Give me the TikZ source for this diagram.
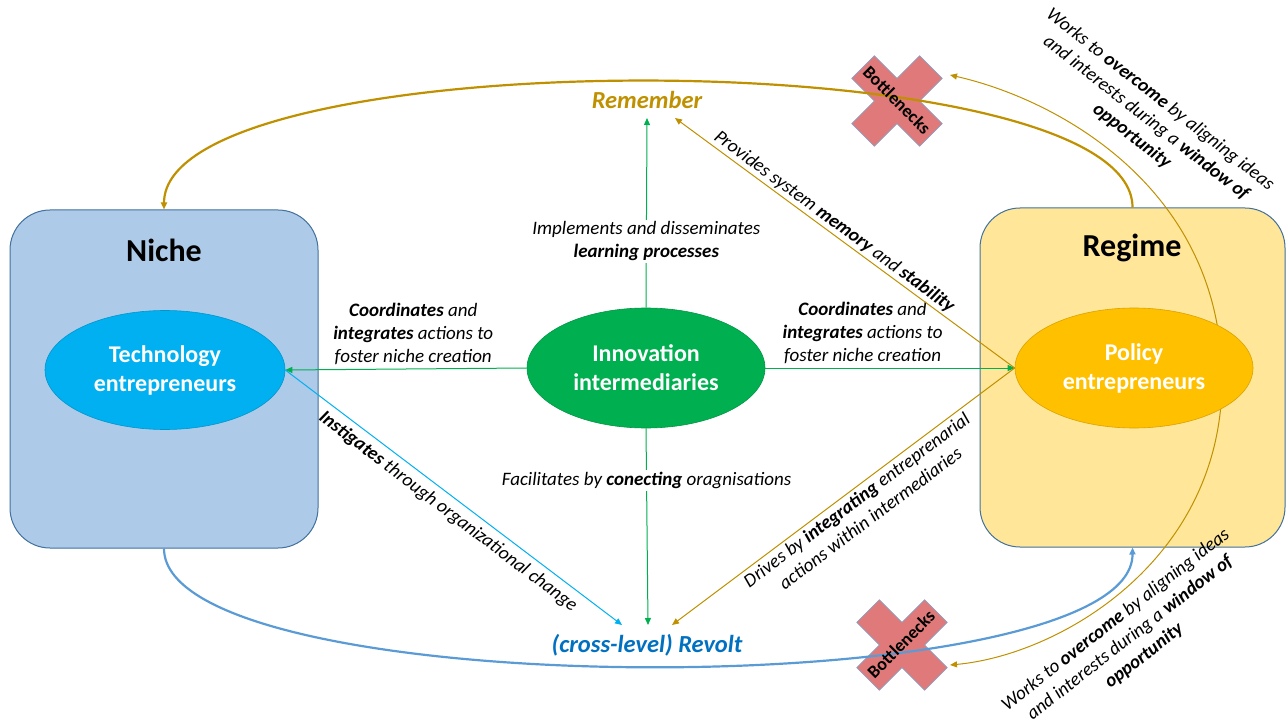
\documentclass[tikz,border=0pt]{standalone}
\usepackage{fontspec}
\setmainfont{Carlito}
\usetikzlibrary{shapes.geometric,arrows.meta,calc}
\definecolor{nichefill}{RGB}{173,202,233}
\definecolor{boxedge}{RGB}{65,113,156}
\definecolor{regimefill}{RGB}{255,230,153}
\definecolor{techfill}{RGB}{0,176,240}
\definecolor{innofill}{RGB}{0,176,80}
\definecolor{polfill}{RGB}{255,192,0}
\definecolor{goldc}{RGB}{191,144,0}
\definecolor{arcblue}{RGB}{91,155,213}
\definecolor{revblue}{RGB}{0,112,192}
\definecolor{crossfill}{RGB}{224,122,122}
\definecolor{crossedge}{RGB}{140,160,195}
\begin{document}
\begin{tikzpicture}[x=1pt,y=-1pt,
  levelbox/.style={draw=boxedge,line width=1pt,rounded corners=40pt,inner sep=0},
  leveltitle/.style={font=\fontsize{32}{37}\selectfont\bfseries},
  actor/.style={ellipse,inner sep=0,minimum width=238pt,minimum height=120pt,text=white,
    font=\fontsize{24}{29}\selectfont\bfseries,align=center,line width=0.6pt},
  lbl/.style={font=\fontsize{19}{23}\selectfont\itshape,align=center,text=black,inner sep=2pt},
  tipa/.style={-{Triangle[length=7pt,width=6pt]}},
  tipb/.style={{Triangle[length=7pt,width=6pt]}-{Triangle[length=7pt,width=6pt]}},
  greenline/.style={draw=innofill,line width=1pt},
  cyanline/.style={draw=techfill,line width=1pt},
  goldline/.style={draw=goldc,line width=1pt},
  bigtext/.style={font=\fontsize{24.5}{29}\selectfont\bfseries\itshape},
  crossshape/.style={fill=crossfill,draw=crossedge,line width=0.6pt},
  crosstext/.style={font=\fontsize{18}{22}\selectfont\bfseries}
]
\useasboundingbox (0,0) rectangle (1287,719);

% level boxes
\node[levelbox,fill=nichefill,minimum width=308pt,minimum height=338pt] (niche) at (164,379) {};
\node[levelbox,fill=regimefill,minimum width=305pt,minimum height=339pt] (regime) at (1132.5,377.5) {};
\node[leveltitle] (nichet) at (164,250) {Niche};
\node[leveltitle] (regimet) at (1132,248) {Regime};

% bottleneck crosses (shapes)
\fill[crossshape,shift={(897,101)},rotate=45]
  (-16,-48) -- (16,-48) -- (16,-16) -- (48,-16) -- (48,16) -- (16,16) -- (16,48)
  -- (-16,48) -- (-16,16) -- (-48,16) -- (-48,-16) -- (-16,-16) -- cycle;
\fill[crossshape,shift={(902,645)},rotate=45]
  (-16,-48) -- (16,-48) -- (16,-16) -- (48,-16) -- (48,16) -- (16,16) -- (16,48)
  -- (-16,48) -- (-16,16) -- (-48,16) -- (-48,-16) -- (-16,-16) -- cycle;

% free ends
\coordinate (ovtop) at (950,75);
\coordinate (ovbot) at (950,665);
\coordinate (remG) at (647,118);
\coordinate (remP) at (675,118);
\coordinate (revT) at (622,625);
\coordinate (revG) at (648,625);
\coordinate (revP) at (672,625);

% big arcs
\draw[draw=goldc,line width=2.2pt,tipa] (regime.north) .. controls (1133,39) and (164,39) .. (niche.north);
\draw[draw=arcblue,line width=2.2pt,tipa] (niche.south) .. controls (164,706) and (1133,706) .. (regime.south);
\draw[goldline,tipb] (ovtop) .. controls (1060,100) and (1222,190) .. (1222,380)
  .. controls (1222,560) and (1060,655) .. (ovbot);

% cross texts
\node[crosstext,rotate=-45] (bn1) at (897,100) {Bottlenecks};
\node[crosstext,rotate=45] (bn2) at (901,644) {Bottlenecks};

% actors
\node[actor,fill=techfill,draw=techfill!85!black,minimum width=240pt,minimum height=119pt] (tech) at (165,370) {Technology\\entrepreneurs};
\node[actor,fill=innofill,draw=innofill!85!black] (inter) at (646,368) {Innovation\\intermediaries};
\node[actor,fill=polfill,draw=polfill!85!black] (policy) at (1134,368) {Policy\\entrepreneurs};

% outcomes
\node[bigtext,text=goldc] (remember) at (647,100) {Remember};
\node[bigtext,text=revblue] (revolt) at (647,645) {(cross-level) Revolt};

% connectors from intermediaries
\draw[greenline,tipa] (inter.north) -- (remG)
  node[lbl,fill=white,pos=0.35] (lblimp) {Implements and disseminates\\\textbf{learning processes}};
\draw[greenline,tipa] (inter.south) -- (revG)
  node[lbl,fill=white,pos=0.264] (lblfac) {Facilitates by \textbf{conecting} oragnisations};
\draw[greenline,tipa] (inter.west) -- (tech.east)
  node[lbl,pos=0.47,above=2pt] (lblcl) {\textbf{Coordinates} and\\\textbf{integrates} actions to\\foster niche creation};
\draw[greenline,tipa] (inter.east) -- (policy.west)
  node[lbl,pos=0.39,above=2pt] (lblcr) {\textbf{Coordinates} and\\\textbf{integrates} actions to\\foster niche creation};

% other connectors
\draw[cyanline,tipa] (tech.east) -- (revT)
  node[lbl,sloped,pos=0.51,below=4pt] (lblins) {\textbf{Instigates} through organizational change};
\draw[goldline,tipa] (policy.west) -- (remP)
  node[lbl,sloped,pos=0.55,above=0pt] (lblprov) {Provides system \textbf{memory} and \textbf{stability}};
\draw[goldline,tipa] (policy.west) -- (revP)
  node[lbl,sloped,pos=0.48,below=1pt] (lbldrv) {Drives by \textbf{integrating} entreprenarial\\actions within intermediaries};

% window of opportunity labels
\node[lbl,rotate=-38] (work1) at (1146,118) {Works to \textbf{overcome} by aligning ideas\\and interests during a \textbf{window of}\\\textbf{opportunity}};
\node[lbl,rotate=38] (work2) at (1130,638) {Works to \textbf{overcome} by aligning ideas\\and interests during a \textbf{window of}\\\textbf{opportunity}};
\end{tikzpicture}
\end{document}
